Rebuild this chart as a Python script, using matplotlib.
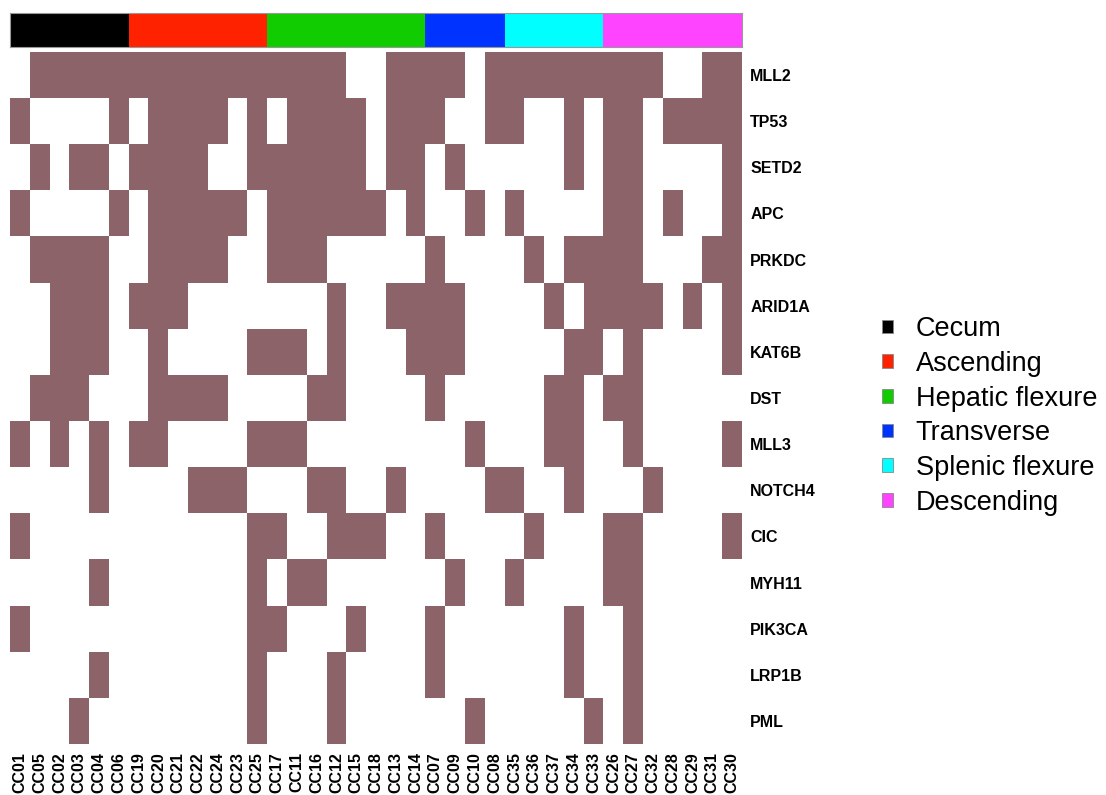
import numpy as np
import matplotlib
matplotlib.use("Agg")
from matplotlib import pyplot as plt
from matplotlib.colors import ListedColormap
import matplotlib.patches as patches

plt.rcParams['font.family'] = ['Liberation Sans', 'DejaVu Sans']

# samples in display order
samples = ['CC01', 'CC05', 'CC02', 'CC03', 'CC04', 'CC06',
           'CC19', 'CC20', 'CC21', 'CC22', 'CC24', 'CC23', 'CC25',
           'CC17', 'CC11', 'CC16', 'CC12', 'CC15', 'CC18', 'CC13', 'CC14',
           'CC07', 'CC09', 'CC10', 'CC08',
           'CC35', 'CC36', 'CC37', 'CC34', 'CC33',
           'CC26', 'CC27', 'CC32', 'CC28', 'CC29', 'CC31', 'CC30']

# tumour location for each sample
locations = ['Cecum', 'Ascending', 'Hepatic flexure', 'Transverse',
             'Splenic flexure', 'Descending']
location_counts = [6, 7, 8, 4, 5, 7]
location_colors = ['#000000', '#ff2200', '#11cc00', '#0033ff', '#00ffff', '#ff44ff']

genes = ['MLL2', 'TP53', 'SETD2', 'APC', 'PRKDC', 'ARID1A', 'KAT6B', 'DST',
         'MLL3', 'NOTCH4', 'CIC', 'MYH11', 'PIK3CA', 'LRP1B', 'PML']

# 1 = mutated, 0 = wild type
mutations = [
    [0,1,1,1,1,1,1,1,1,1,1,1,1,1,1,1,1,0,0,1,1,1,1,0,1,1,1,1,1,1,1,1,1,0,0,1,1],
    [1,0,0,0,0,1,0,1,1,1,1,0,1,0,1,1,1,1,0,1,1,1,0,0,1,1,0,0,1,0,1,1,0,1,1,1,1],
    [0,1,0,1,1,0,1,1,1,1,0,0,1,1,1,1,1,1,0,1,1,0,1,0,0,0,0,0,1,0,1,1,0,0,0,0,1],
    [1,0,0,0,0,1,0,1,1,1,1,1,0,1,1,1,1,1,1,0,1,0,0,1,0,1,0,0,0,0,1,1,0,1,0,0,1],
    [0,1,1,1,1,0,0,1,1,1,1,0,0,1,1,1,0,0,0,0,0,1,0,0,0,0,1,0,1,1,1,1,0,0,0,1,1],
    [0,0,1,1,1,0,1,1,1,0,0,0,0,0,0,0,1,0,0,1,1,1,1,0,0,0,0,1,0,1,1,1,1,0,1,0,1],
    [0,0,1,1,1,0,0,1,0,0,0,0,1,1,1,0,1,0,0,0,1,1,1,0,0,0,0,0,1,1,0,1,0,0,0,0,1],
    [0,1,1,1,0,0,0,1,1,1,1,0,0,0,0,1,1,0,0,0,0,1,0,0,0,0,0,1,1,0,1,1,0,0,0,0,0],
    [1,0,1,0,1,0,1,1,0,0,0,0,1,1,1,0,0,0,0,0,0,0,0,1,0,0,0,1,1,0,0,1,0,0,0,0,1],
    [0,0,0,0,1,0,0,0,0,1,1,1,0,0,0,1,1,0,0,1,0,0,0,0,1,1,0,0,1,0,0,0,1,0,0,0,0],
    [1,0,0,0,0,0,0,0,0,0,0,0,1,1,0,0,1,1,1,0,0,1,0,0,0,0,1,0,0,0,1,1,0,0,0,0,1],
    [0,0,0,0,1,0,0,0,0,0,0,0,1,0,1,1,0,0,0,0,0,0,1,0,0,1,0,0,0,0,1,1,0,0,0,0,0],
    [1,0,0,0,0,0,0,0,0,0,0,0,1,1,0,0,0,1,0,0,0,1,0,0,0,0,0,0,1,0,0,1,0,0,0,0,0],
    [0,0,0,0,1,0,0,0,0,0,0,0,1,0,0,0,1,0,0,0,0,1,0,0,0,0,0,0,1,0,0,1,0,0,0,0,0],
    [0,0,0,1,0,0,0,0,0,0,0,0,1,0,0,0,1,0,0,0,0,0,0,1,0,0,0,0,0,1,0,1,0,0,0,0,0],
]

mut_color = '#8b6369'

fig = plt.figure(figsize=(11.06, 7.95), dpi=100)

# main heatmap
ax = fig.add_axes([10/1106, 1 - 744/795, 732/1106, 692/795])
data = np.array(mutations)
ax.imshow(data, cmap=ListedColormap(['white', mut_color]), aspect='auto',
          interpolation='nearest', vmin=0, vmax=1)
ax.set_xticks(np.arange(len(samples)))
ax.set_xticklabels(samples, rotation=90, fontsize=11.5, fontweight='bold')
ax.set_yticks(np.arange(len(genes)))
ax.set_yticklabels(genes, fontsize=11.5, fontweight='bold')
ax.yaxis.tick_right()
ax.tick_params(length=0, pad=6)
for s in ax.spines.values():
    s.set_visible(False)

# location annotation bar
ax_top = fig.add_axes([10/1106, 1 - 47/795, 732/1106, 34/795])
group_idx = np.repeat(np.arange(len(locations)), location_counts)[None, :]
ax_top.imshow(group_idx, cmap=ListedColormap(location_colors), aspect='auto',
              interpolation='nearest', vmin=-0.5, vmax=len(locations) - 0.5)
ax_top.set_xticks([])
ax_top.set_yticks([])
for s in ax_top.spines.values():
    s.set_color('#999999')
    s.set_linewidth(0.8)

handles = [patches.Patch(facecolor=c, edgecolor='#888888', linewidth=0.6, label=l)
           for c, l in zip(location_colors, locations)]
fig.legend(handles=handles, loc='center left', bbox_to_anchor=(871/1106, 1 - 416/795),
           frameon=False, fontsize=19.5, handlelength=0.4, handleheight=0.4,
           handletextpad=0.85, labelspacing=0.32, borderaxespad=0)

fig.savefig('out.png', dpi=100)
